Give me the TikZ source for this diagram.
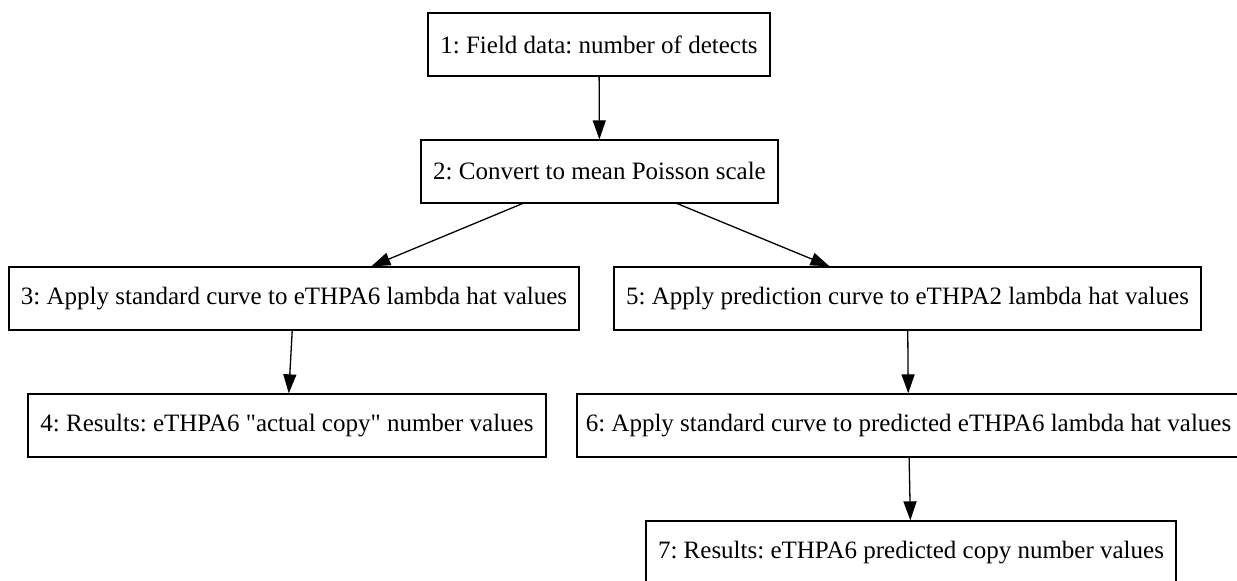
\documentclass[tikz,border=0pt]{standalone}
\usepackage{fontspec}
\setmainfont{Liberation Serif}[Ligatures=TeXOff]
\usetikzlibrary{arrows.meta}
\begin{document}
\frenchspacing
\begin{tikzpicture}[x=1pt,y=-1pt,
  box/.style={draw=black, line width=1.3pt, rectangle, inner sep=0pt, minimum height=63pt, font=\fontsize{25}{30}\selectfont\frenchspacing, text=black},
  flow/.style={-{Triangle[length=19pt,width=13pt]}, line width=1.3pt, draw=black}]
\useasboundingbox (0,0) rectangle (1237,581);
\fill[white] (0,0) rectangle (1237,581);
\clip (0,0) rectangle (1237,581);
\node[box, minimum width=342pt] (n1) at (599,44.5) {1: Field data: number of detects};
\node[box, minimum width=357pt] (n2) at (599.5,171.5) {2: Convert to mean Poisson scale};
\node[box, minimum width=570pt] (n3) at (294,298.5) {3: Apply standard curve to eTHPA6 lambda hat values};
\node[box, minimum width=587pt] (n5) at (907.5,298.5) {5: Apply prediction curve to eTHPA2 lambda hat values};
\node[box, minimum width=518pt] (n4) at (287,425.5) {4: Results: eTHPA6 "actual copy" number values};
\node[box, minimum width=663pt] (n6) at (908.5,425.5) {6: Apply standard curve to predicted eTHPA6 lambda hat values};
\node[box, minimum width=530pt] (n7) at (911,552.5) {7: Results: eTHPA6 predicted copy number values};
\draw[flow] (n1) -- (n2);
\draw[flow] (n2) -- (n3);
\draw[flow] (n2) -- (n5);
\draw[flow] (n3) -- (n4);
\draw[flow] (n5) -- (n6);
\draw[flow] (n6) -- (n7);
\end{tikzpicture}
\end{document}
